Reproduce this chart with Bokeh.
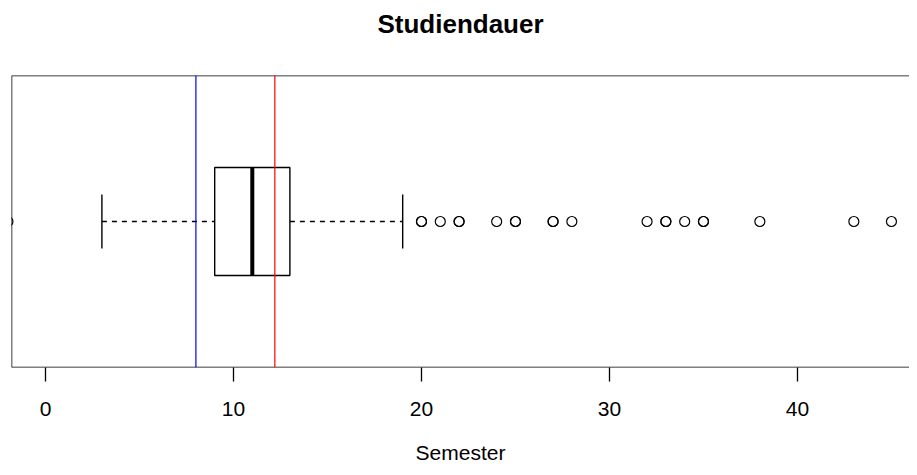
from bokeh.plotting import figure
from bokeh.models import Span, FixedTicker, Range1d, Title
from bokeh.embed import file_html
from bokeh.resources import INLINE

# ---- data ----
title_text = "Studiendauer"
x_label = "Semester"
tick_values = [0, 10, 20, 30, 40]
lower_whisker = 3
q1 = 9
median = 11
q3 = 13
upper_whisker = 19
outliers = [-2, 20, 20, 21, 22, 22, 24, 25, 25, 27, 27, 28, 32, 33, 33, 34, 35, 35, 38, 43, 45]
blue_line = 8
red_line = 12.2

FONT = "Liberation Sans"

p = figure(width=909, height=467, output_backend="svg", toolbar_location=None, title=None,
           x_range=Range1d(-1.809, 45.96), y_range=Range1d(0.46, 1.54),
           min_border_left=11, min_border_right=0, min_border_top=75, min_border_bottom=100)

# spacer panel between frame and title, then the title itself
p.add_layout(Title(text=" ", text_font=FONT, text_font_size="1px", standoff=28), "above")
p.add_layout(Title(text=title_text, align="center", text_font=FONT, text_font_size="26px",
                   text_font_style="bold", text_color="black", standoff=12), "above")

p.grid.visible = False
p.yaxis.visible = False
p.outline_line_color = None
p.background_fill_color = "white"
p.border_fill_color = "white"

xa = p.xaxis[0]
xa.ticker = FixedTicker(ticks=tick_values)
xa.axis_line_color = None
xa.major_tick_out = 14
xa.major_tick_in = 0
xa.minor_tick_line_color = None
xa.major_tick_line_width = 1.3
xa.major_tick_line_color = "black"
xa.major_label_text_font = FONT
xa.major_label_text_font_size = "21px"
xa.major_label_text_color = "black"
xa.major_label_text_line_height = 1.0
xa.major_label_standoff = 20
xa.axis_label = x_label
xa.axis_label_text_font = FONT
xa.axis_label_text_font_size = "21px"
xa.axis_label_text_font_style = "normal"
xa.axis_label_text_color = "black"
xa.axis_label_text_line_height = 1.0
xa.axis_label_standoff = 22

# frame (left, top, bottom)
for loc, dim in [(p.x_range.start, "height"), (p.y_range.start, "width"), (p.y_range.end, "width")]:
    p.add_layout(Span(location=loc, dimension=dim, line_color="black", line_width=1.5))

# box
p.quad(left=[q1], right=[q3], bottom=[0.8], top=[1.2], fill_color=None,
       line_color="black", line_width=1.4)
# whiskers
p.segment(x0=[lower_whisker, q3], y0=[1, 1], x1=[q1, upper_whisker], y1=[1, 1],
          line_color="black", line_width=1.3, line_dash="5 5")
# staples
p.segment(x0=[lower_whisker, upper_whisker], y0=[0.9, 0.9],
          x1=[lower_whisker, upper_whisker], y1=[1.1, 1.1],
          line_color="black", line_width=1.4)
# median
p.segment(x0=[median], y0=[0.8], x1=[median], y1=[1.2], line_color="black", line_width=4)
# outliers
p.scatter(x=outliers, y=[1] * len(outliers), marker="circle", size=10,
          fill_color=None, line_color="black", line_width=1.2)

# reference lines
p.add_layout(Span(location=blue_line, dimension="height", line_color="#0000FF", line_width=1.2))
p.add_layout(Span(location=red_line, dimension="height", line_color="#FF0000", line_width=1.2))

open("out.html", "w").write(file_html(p, INLINE))
